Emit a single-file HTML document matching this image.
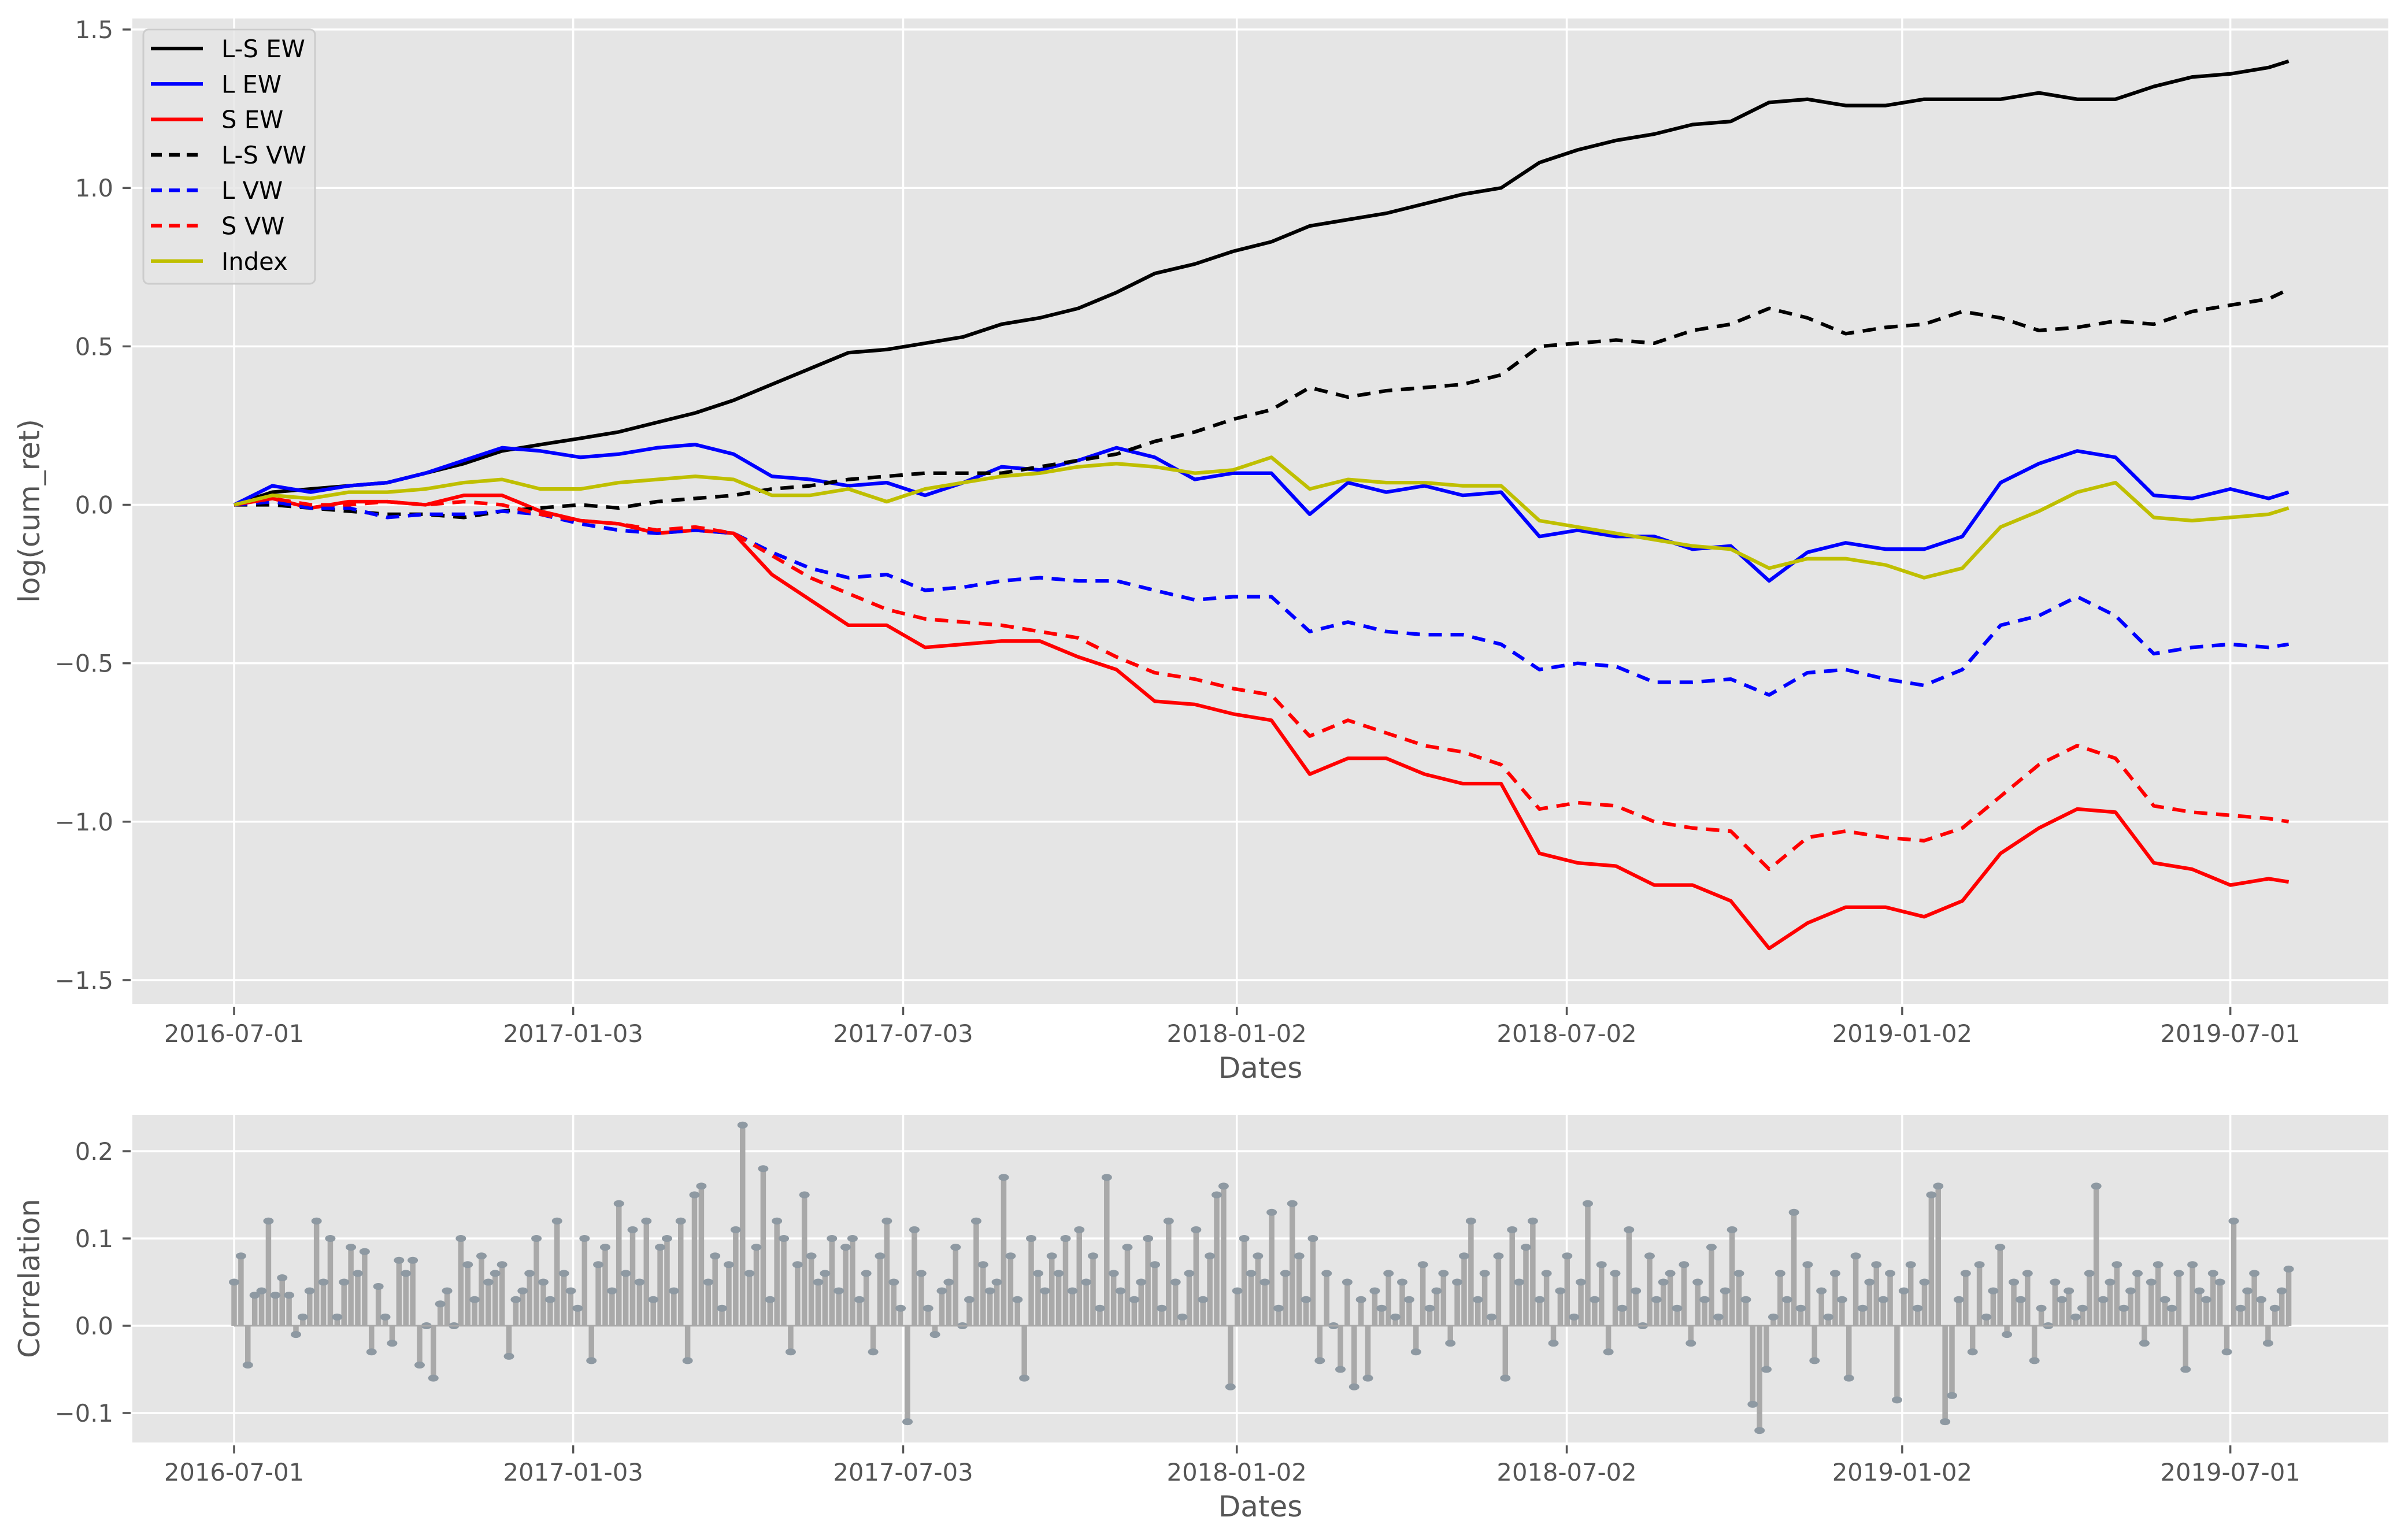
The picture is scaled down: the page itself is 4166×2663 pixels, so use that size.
<!DOCTYPE html>
<html><head><meta charset="utf-8"><style>
html,body{margin:0;padding:0;background:#fff;}
svg{display:block;font-family:"DejaVu Sans","Liberation Sans",sans-serif;}
</style></head><body>
<svg id="chart" xmlns="http://www.w3.org/2000/svg" width="4166" height="2663" viewBox="0 0 4166 2663">
<g id="topPanel"></g>
<g id="botPanel"></g>
</svg>
<script>
// ---- data ----
const days = [0,21,42,63,84,105,126,147,168,190,211,232,253,274,295,316,337,358,379,400,421,442,463,484,505,527,548,569,590,611,632,653,674,695,716,737,758,779,800,821,842,863,884,906,927,948,969,990,1011,1032,1053,1074,1095,1116,1127];
const lsEW = [0,0.04,0.05,0.06,0.07,0.10,0.13,0.17,0.19,0.21,0.23,0.26,0.29,0.33,0.38,0.43,0.48,0.49,0.51,0.53,0.57,0.59,0.62,0.67,0.73,0.76,0.80,0.83,0.88,0.90,0.92,0.95,0.98,1.00,1.08,1.12,1.15,1.17,1.20,1.21,1.27,1.28,1.26,1.26,1.28,1.28,1.28,1.30,1.28,1.28,1.32,1.35,1.36,1.38,1.40];
const lEW = [0,0.06,0.04,0.06,0.07,0.10,0.14,0.18,0.17,0.15,0.16,0.18,0.19,0.16,0.09,0.08,0.06,0.07,0.03,0.07,0.12,0.11,0.14,0.18,0.15,0.08,0.10,0.10,-0.03,0.07,0.04,0.06,0.03,0.04,-0.10,-0.08,-0.10,-0.10,-0.14,-0.13,-0.24,-0.15,-0.12,-0.14,-0.14,-0.10,0.07,0.13,0.17,0.15,0.03,0.02,0.05,0.02,0.04];
const sEW = [0,0.02,-0.01,0.01,0.01,0.0,0.03,0.03,-0.02,-0.05,-0.06,-0.09,-0.08,-0.09,-0.22,-0.30,-0.38,-0.38,-0.45,-0.44,-0.43,-0.43,-0.48,-0.52,-0.62,-0.63,-0.66,-0.68,-0.85,-0.80,-0.80,-0.85,-0.88,-0.88,-1.10,-1.13,-1.14,-1.20,-1.20,-1.25,-1.40,-1.32,-1.27,-1.27,-1.30,-1.25,-1.10,-1.02,-0.96,-0.97,-1.13,-1.15,-1.20,-1.18,-1.19];
const lsVW = [0,0.0,-0.01,-0.02,-0.03,-0.03,-0.04,-0.02,-0.01,0.0,-0.01,0.01,0.02,0.03,0.05,0.06,0.08,0.09,0.10,0.10,0.10,0.12,0.14,0.16,0.20,0.23,0.27,0.30,0.37,0.34,0.36,0.37,0.38,0.41,0.50,0.51,0.52,0.51,0.55,0.57,0.62,0.59,0.54,0.56,0.57,0.61,0.59,0.55,0.56,0.58,0.57,0.61,0.63,0.65,0.68];
const lVW = [0,0.01,-0.01,-0.01,-0.04,-0.03,-0.03,-0.02,-0.03,-0.06,-0.08,-0.09,-0.08,-0.09,-0.15,-0.20,-0.23,-0.22,-0.27,-0.26,-0.24,-0.23,-0.24,-0.24,-0.27,-0.30,-0.29,-0.29,-0.40,-0.37,-0.40,-0.41,-0.41,-0.44,-0.52,-0.50,-0.51,-0.56,-0.56,-0.55,-0.60,-0.53,-0.52,-0.55,-0.57,-0.52,-0.38,-0.35,-0.29,-0.35,-0.47,-0.45,-0.44,-0.45,-0.44];
const sVW = [0,0.02,0.0,0.0,0.01,0.0,0.01,0.0,-0.03,-0.05,-0.06,-0.08,-0.07,-0.09,-0.16,-0.23,-0.28,-0.33,-0.36,-0.37,-0.38,-0.40,-0.42,-0.48,-0.53,-0.55,-0.58,-0.60,-0.73,-0.68,-0.72,-0.76,-0.78,-0.82,-0.96,-0.94,-0.95,-1.00,-1.02,-1.03,-1.15,-1.05,-1.03,-1.05,-1.06,-1.02,-0.92,-0.82,-0.76,-0.80,-0.95,-0.97,-0.98,-0.99,-1.00];
const indexSeries = [0,0.03,0.02,0.04,0.04,0.05,0.07,0.08,0.05,0.05,0.07,0.08,0.09,0.08,0.03,0.03,0.05,0.01,0.05,0.07,0.09,0.10,0.12,0.13,0.12,0.10,0.11,0.15,0.05,0.08,0.07,0.07,0.06,0.06,-0.05,-0.07,-0.09,-0.11,-0.13,-0.14,-0.20,-0.17,-0.17,-0.19,-0.23,-0.20,-0.07,-0.02,0.04,0.07,-0.04,-0.05,-0.04,-0.03,-0.01];
const corrValues = [
0.05,0.08,-0.045,0.035,0.04,0.12,0.035,0.055,0.035,-0.01,0.01,0.04,0.12,0.05,0.1,0.01,0.05,0.09,0.06,0.085,-0.03,0.045,0.01,-0.02,0.075,0.06,0.075,-0.045,0.0,-0.06,
0.025,0.04,0.0,0.1,0.07,0.03,0.08,0.05,0.06,0.07,-0.035,0.03,0.04,0.06,0.1,0.05,0.03,0.12,0.06,0.04,0.02,0.1,-0.04,0.07,0.09,0.04,0.14,0.06,0.11,0.05,
0.12,0.03,0.09,0.1,0.04,0.12,-0.04,0.15,0.16,0.05,0.08,0.02,0.07,0.11,0.23,0.06,0.09,0.18,0.03,0.12,0.1,-0.03,0.07,0.15,0.08,0.05,0.06,0.1,0.04,0.09,
0.1,0.03,0.06,-0.03,0.08,0.12,0.05,0.02,-0.11,0.11,0.06,0.02,-0.01,0.04,0.05,0.09,0.0,0.03,0.12,0.07,0.04,0.05,0.17,0.08,0.03,-0.06,0.1,0.06,0.04,0.08,
0.06,0.1,0.04,0.11,0.05,0.08,0.02,0.17,0.06,0.04,0.09,0.03,0.05,0.1,0.07,0.02,0.12,0.05,0.01,0.06,0.11,0.03,0.08,0.15,0.16,-0.07,0.04,0.1,0.06,0.08,
0.05,0.13,0.02,0.06,0.14,0.08,0.03,0.1,-0.04,0.06,0.0,-0.05,0.05,-0.07,0.03,-0.06,0.04,0.02,0.06,0.01,0.05,0.03,-0.03,0.07,0.02,0.04,0.06,-0.02,0.05,0.08,
0.12,0.03,0.06,0.01,0.08,-0.06,0.11,0.05,0.09,0.12,0.03,0.06,-0.02,0.04,0.08,0.01,0.05,0.14,0.03,0.07,-0.03,0.06,0.02,0.11,0.04,0.0,0.08,0.03,0.05,0.06,
0.02,0.07,-0.02,0.05,0.03,0.09,0.01,0.04,0.11,0.06,0.03,-0.09,-0.12,-0.05,0.01,0.06,0.03,0.13,0.02,0.07,-0.04,0.04,0.01,0.06,0.03,-0.06,0.08,0.02,0.05,0.07,
0.03,0.06,-0.085,0.04,0.07,0.02,0.05,0.15,0.16,-0.11,-0.08,0.03,0.06,-0.03,0.07,0.01,0.04,0.09,-0.01,0.05,0.03,0.06,-0.04,0.02,0.0,0.05,0.03,0.04,0.01,0.02,
0.06,0.16,0.03,0.05,0.07,0.02,0.04,0.06,-0.02,0.05,0.07,0.03,0.02,0.06,-0.05,0.07,0.04,0.03,0.06,0.05,-0.03,0.12,0.02,0.04,0.06,0.03,-0.02,0.02,0.04,0.065];
const corrLastDay = 1127;
const xTickDays = [0,186,367,550,731,915,1095];
const xTickLabels = ["2016-07-01","2017-01-03","2017-07-03","2018-01-02","2018-07-02","2019-01-02","2019-07-01"];
const topYTicks = [1.5,1.0,0.5,0.0,-0.5,-1.0,-1.5];
const botYTicks = [0.2,0.1,0.0,-0.1];

// ---- layout ----
const NS="http://www.w3.org/2000/svg";
const PL=229,PR=4132;
const xs=d=>405+d*3.154;
const yTop=v=>873.5-v*548.3;
const yBot=v=>2294-v*1510;
function mk(p,tag,a){const e=document.createElementNS(NS,tag);for(const k in a)e.setAttribute(k,a[k]);p.appendChild(e);return e;}

function axes(g,t0,b0,yf,ticks,ylabel,ylabelY,dec,prefix){
  const bg=mk(g,'rect',{x:PL,y:t0,width:PR-PL,height:b0-t0,fill:'#e5e5e5'});
  
  
  xTickDays.forEach((d,i)=>{
    const x=xs(d);
    const gl=mk(g,'line',{x1:x,x2:x,y1:t0,y2:b0,stroke:'#fff','stroke-width':3.5});
    
    
    mk(g,'line',{x1:x,x2:x,y1:b0+5,y2:b0+19,stroke:'#555','stroke-width':3.5});
    const t=mk(g,'text',{x:x,y:b0+66,'text-anchor':'middle','font-size':41.7,fill:'#555'});
    t.textContent=xTickLabels[i];
    
    
  });
  ticks.forEach(v=>{
    const y=yf(v);
    const gl=mk(g,'line',{x1:PL,x2:PR,y1:y,y2:y,stroke:'#fff','stroke-width':3.5});
    
    
    mk(g,'line',{x1:212,x2:226,y1:y,y2:y,stroke:'#555','stroke-width':3.5});
    const t=mk(g,'text',{x:196,y:y+15,'text-anchor':'end','font-size':41.7,fill:'#555'});
    t.textContent=(v<0?"\u2212":"")+Math.abs(v).toFixed(dec);
    
    
  });
  const xl=mk(g,'text',{x:(PL+PR)/2,y:b0+128,'text-anchor':'middle','font-size':50,fill:'#555'});
  xl.textContent='Dates';
  
  
  const yl=mk(g,'text',{x:0,y:0,'text-anchor':'middle','font-size':50,fill:'#555',transform:`translate(68,${ylabelY}) rotate(-90)`});
  yl.textContent=ylabel;
  
  
}

const topG=document.getElementById('topPanel');
axes(topG,32,1737,yTop,topYTicks,'log(cum_ret)',884,1,'top');
const series=[
 {name:'L-S EW',v:lsEW,c:'#000000',dash:null,id:'ls-ew'},
 {name:'L EW',v:lEW,c:'#0000ff',dash:null,id:'l-ew'},
 {name:'S EW',v:sEW,c:'#ff0000',dash:null,id:'s-ew'},
 {name:'L-S VW',v:lsVW,c:'#000000',dash:'23 15',id:'ls-vw'},
 {name:'L VW',v:lVW,c:'#0000ff',dash:'23 15',id:'l-vw'},
 {name:'S VW',v:sVW,c:'#ff0000',dash:'23 15',id:'s-vw'},
 {name:'Index',v:indexSeries,c:'#bfbf00',dash:null,id:'index'}
];
series.forEach(s=>{
  const pts=s.v.map((v,j)=>xs(days[j]).toFixed(1)+','+yTop(v).toFixed(1)).join(' ');
  const a={points:pts,fill:'none',stroke:s.c,'stroke-width':6.25,'stroke-linejoin':'round'};
  if(s.dash)a['stroke-dasharray']=s.dash;
  const pl=mk(topG,'polyline',a);
  
  
});
// legend
const lg=mk(topG,'g',{});


mk(lg,'rect',{x:248,y:51,width:297,height:440,rx:9,fill:'#e5e5e5','fill-opacity':0.8,stroke:'#cccccc','stroke-width':3});
series.forEach((s,i)=>{
  const y=84+i*61.3;
  const a={x1:261,x2:351,y1:y,y2:y,stroke:s.c,'stroke-width':6.25};
  if(s.dash)a['stroke-dasharray']='19 12';
  const ln=mk(lg,'line',a);
  
  
  const t=mk(lg,'text',{x:383,y:y+15,'font-size':41.7,fill:'#000'});
  t.textContent=s.name;
  
  
});

const botG=document.getElementById('botPanel');
axes(botG,1929,2496,yBot,botYTicks,'Correlation',2212,1,'bottom');
const n=corrValues.length;
corrValues.forEach((v,i)=>{
  const x=xs(i*corrLastDay/(n-1));
  const st=mk(botG,'line',{x1:x,x2:x,y1:yBot(0),y2:yBot(v),stroke:'#a9a9a9','stroke-width':9.5});
  
  
});
corrValues.forEach((v,i)=>{
  const x=xs(i*corrLastDay/(n-1));
  const c=mk(botG,'ellipse',{cx:x,cy:yBot(v),rx:9,ry:6,fill:'#8e99a2'});
  
  
});
mk(botG,'line',{x1:xs(0),x2:xs(corrLastDay),y1:yBot(0),y2:yBot(0),stroke:'#a9a9a9','stroke-width':3});
</script>
</body></html>
